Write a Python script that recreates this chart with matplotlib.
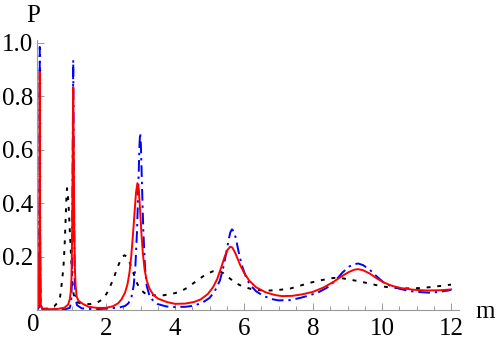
import numpy as np
from matplotlib import pyplot as plt
from matplotlib.ticker import MultipleLocator

# red solid curve
x_red = [0, 0.05, 0.07, 0.08, 0.09, 0.11, 0.15, 0.3, 0.6, 0.8, 0.9, 0.95, 0.98, 1.0, 1.02, 1.035,
         1.05, 1.065, 1.08, 1.1, 1.12, 1.15, 1.2, 1.34, 1.5, 1.73, 2.0, 2.2, 2.35, 2.45, 2.55,
         2.62, 2.68, 2.73, 2.78, 2.83, 2.87, 2.91, 2.95, 2.99, 3.03, 3.07, 3.12, 3.18, 3.26,
         3.37, 3.5, 3.76, 4.0, 4.3, 4.55, 4.75, 4.95, 5.1, 5.22, 5.34, 5.44, 5.52, 5.6, 5.66,
         5.74, 5.82, 5.9, 6.0, 6.15, 6.35, 6.63, 6.9, 7.1, 7.4, 7.7, 8.0, 8.3, 8.6, 8.85, 9.05,
         9.2, 9.3, 9.45, 9.65, 9.85, 10.05, 10.3, 10.55, 10.9, 11.3, 11.7, 12.0]
y_red = [0.0, 0.02, 0.3, 0.89, 0.3, 0.02, 0.006, 0.003, 0.004, 0.009, 0.02, 0.04, 0.07, 0.12, 0.3, 0.6,
         0.835, 0.6, 0.3, 0.15, 0.09, 0.05, 0.035, 0.022, 0.012, 0.008, 0.008, 0.014, 0.025, 0.04, 0.065,
         0.095, 0.14, 0.2, 0.28, 0.37, 0.44, 0.475, 0.45, 0.37, 0.28, 0.21, 0.15, 0.11, 0.08,
         0.057, 0.043, 0.03, 0.023, 0.024, 0.03, 0.04, 0.06, 0.085, 0.115, 0.16, 0.2, 0.225, 0.237, 0.234,
         0.215, 0.19, 0.165, 0.14, 0.11, 0.085, 0.066, 0.056, 0.052, 0.053, 0.059, 0.068, 0.084, 0.106, 0.128, 0.143,
         0.151, 0.153, 0.149, 0.136, 0.118, 0.103, 0.09, 0.082, 0.076, 0.073, 0.074, 0.077]

# blue dot-dashed curve
x_blue = [0, 0.06, 0.075, 0.08, 0.085, 0.1, 0.15, 0.4, 0.8, 0.95, 0.99, 1.01, 1.03, 1.05, 1.07,
          1.09, 1.12, 1.16, 1.3, 1.7, 2.12, 2.4, 2.55, 2.65, 2.74, 2.8, 2.85, 2.9, 2.94, 2.97,
          2.99, 3.01, 3.04, 3.08, 3.13, 3.18, 3.28, 3.5, 3.76, 3.97, 4.3, 4.55, 4.8, 5.0, 5.15,
          5.3, 5.4, 5.48, 5.55, 5.6, 5.65, 5.7, 5.76, 5.84, 5.93, 6.05, 6.17, 6.35, 6.56, 6.8,
          7.0, 7.33, 7.62, 7.9, 8.15, 8.4, 8.65, 8.85, 9.05, 9.2, 9.31, 9.45, 9.65, 9.85, 10.04,
          10.25, 10.52, 10.8, 11.0, 11.34, 11.6, 11.87, 12.0]
y_blue = [0.0, 0.01, 0.4, 0.985, 0.4, 0.02, 0.004, 0.001, 0.002, 0.008, 0.03, 0.1, 0.45, 0.936, 0.45,
          0.12, 0.04, 0.018, 0.006, 0.003, 0.006, 0.01, 0.015, 0.025, 0.05, 0.09, 0.16, 0.3, 0.48, 0.62,
          0.663, 0.62, 0.48, 0.3, 0.16, 0.09, 0.045, 0.022, 0.013, 0.011, 0.012, 0.016, 0.028, 0.045, 0.07,
          0.11, 0.16, 0.21, 0.26, 0.29, 0.302, 0.295, 0.27, 0.22, 0.17, 0.125, 0.095, 0.07, 0.053, 0.041,
          0.036, 0.037, 0.045, 0.055, 0.066, 0.083, 0.11, 0.14, 0.163, 0.172, 0.174, 0.168, 0.15, 0.125, 0.104,
          0.09, 0.079, 0.071, 0.068, 0.065, 0.067, 0.072, 0.075]

# black dotted curve
x_black = [0, 0.06, 0.075, 0.08, 0.085, 0.1, 0.2, 0.38, 0.5, 0.6, 0.67, 0.73, 0.77, 0.8, 0.83,
           0.855, 0.87, 0.89, 0.92, 0.95, 0.98, 1.0, 1.03, 1.06, 1.1, 1.15, 1.3, 1.54, 1.75,
           1.92, 2.05, 2.21, 2.35, 2.45, 2.53, 2.6, 2.68, 2.79, 2.9, 2.99, 3.12, 3.28, 3.5,
           3.66, 3.9, 4.14, 4.35, 4.53, 4.7, 4.9, 5.1, 5.25, 5.4, 5.55, 5.69, 5.85, 5.98, 6.2,
           6.45, 6.75, 7.0, 7.33, 7.6, 7.91, 8.25, 8.59, 8.8, 8.93, 9.27, 9.6, 9.94, 10.23,
           10.6, 10.9, 11.2, 11.49, 11.75, 12.0]
y_black = [0.0, 0.02, 0.35, 0.88, 0.35, 0.02, 0.004, 0.007, 0.014, 0.028, 0.05, 0.112, 0.17, 0.24, 0.34,
           0.43, 0.456, 0.44, 0.38, 0.3, 0.22, 0.17, 0.1, 0.06, 0.04, 0.03, 0.023, 0.022, 0.028,
           0.042, 0.068, 0.115, 0.165, 0.195, 0.205, 0.2, 0.18, 0.14, 0.1, 0.078, 0.063, 0.056, 0.054,
           0.055, 0.06, 0.068, 0.083, 0.1, 0.116, 0.134, 0.145, 0.147, 0.138, 0.122, 0.108, 0.095, 0.087, 0.079,
           0.074, 0.073, 0.075, 0.08, 0.09, 0.102, 0.112, 0.12, 0.12, 0.117, 0.109, 0.1, 0.09, 0.084,
           0.081, 0.081, 0.083, 0.087, 0.091, 0.095]

plt.rcParams['font.family'] = ['Liberation Serif', 'DejaVu Serif']

fig = plt.figure(figsize=(4.98, 3.44), dpi=100)
ax = fig.add_axes([37/498, 34/344, 422/498, 270/344])

ax.plot(x_black, y_black, color='black', lw=1.4, dashes=(2, 3.5))
ax.plot(x_blue, y_blue, color='blue', lw=1.4, dashes=(6, 2.5, 1.2, 2.5))
ax.plot(x_red, y_red, color='red', lw=1.4)

ax.set_xlim(0, 12.23)
ax.set_ylim(0, 1.011)
for s in ['top', 'right']:
    ax.spines[s].set_visible(False)
for s in ['left', 'bottom']:
    ax.spines[s].set_color('#999999')
    ax.spines[s].set_linewidth(0.8)

ax.xaxis.set_minor_locator(MultipleLocator(0.5))
ax.yaxis.set_minor_locator(MultipleLocator(0.05))
ax.set_xticks([2, 4, 6, 8, 10, 12])
ax.set_xticklabels(['2', '4', '6', '8', '10', '12'])
ax.set_yticks([0.2, 0.4, 0.6, 0.8, 1.0])
ax.set_yticklabels(['0.2', '0.4', '0.6', '0.8', '1.0'])
ax.tick_params(which='both', direction='in', color='#999999', labelsize=18, width=0.7)
ax.tick_params(which='major', length=5)
ax.tick_params(which='minor', length=3)
ax.tick_params(axis='x', pad=6)
ax.tick_params(axis='y', pad=3)

fig.text(33/498, 1 - 314/344, '0', fontsize=18, ha='center', va='top')
fig.text(485/498, 1 - 312/344, 'm', fontsize=18, ha='center', va='center')
fig.text(33/498, 1 - 16/344, 'P', fontsize=18, ha='center', va='center')

fig.savefig('out.png', dpi=100)
